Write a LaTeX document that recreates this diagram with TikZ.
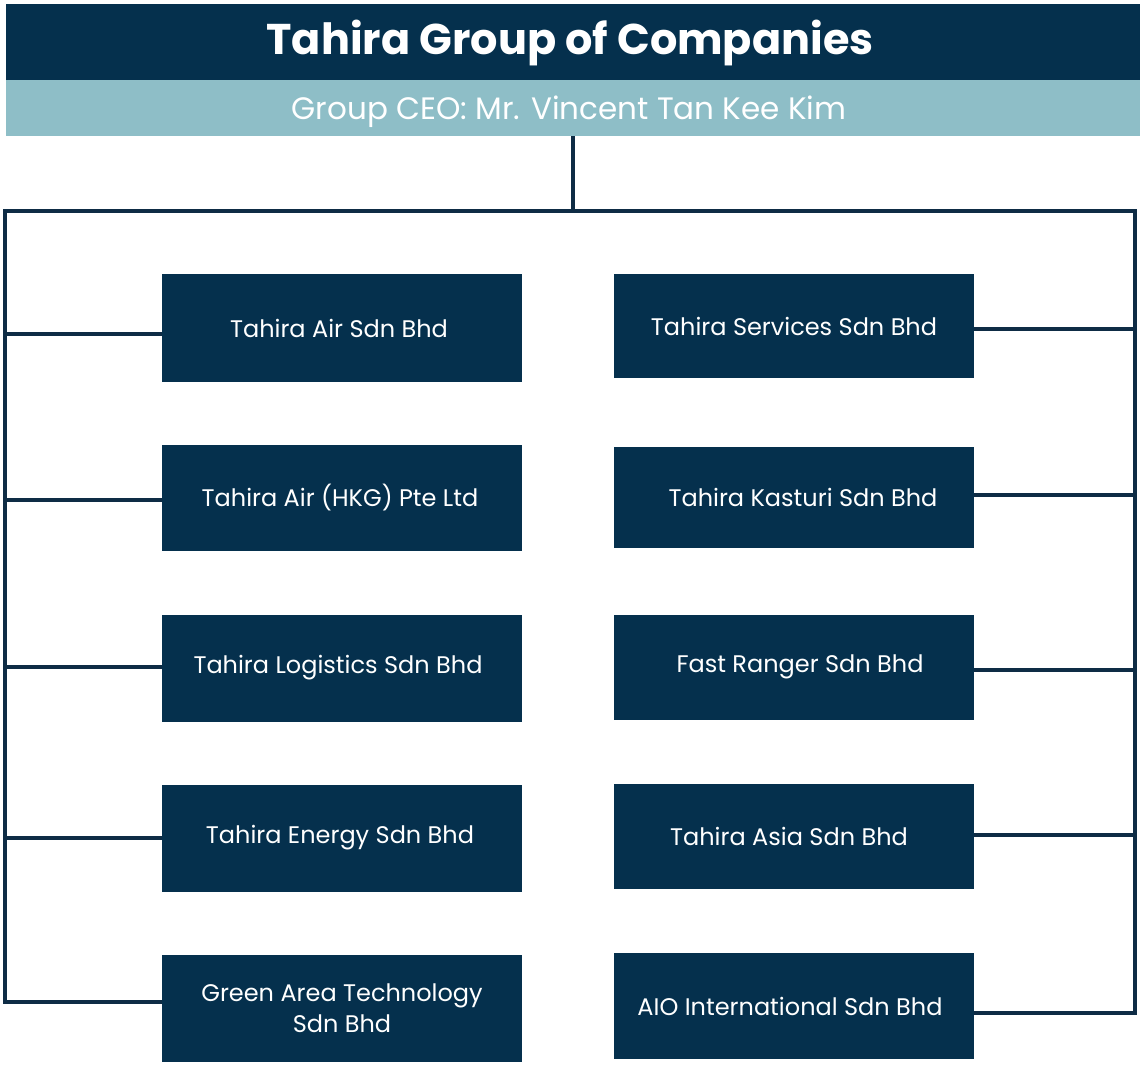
\documentclass[tikz,border=0pt]{standalone}
\usepackage{fontspec}
\setmainfont{Poppins}
\definecolor{navy}{HTML}{05304D}
\definecolor{linec}{HTML}{0E2C45}
\definecolor{teal}{HTML}{8EBEC7}
\begin{document}
\begin{tikzpicture}[x=1pt,y=-1pt,
  company/.style={fill=navy,text=white,minimum width=360pt,minimum height=107pt,inner sep=0pt,align=center,font=\fontsize{24}{31}\selectfont},
  bar/.style={minimum width=1134pt,inner sep=0pt,anchor=north west},
  conn/.style={draw=linec,line width=4.5pt},
]
\useasboundingbox (0,0) rectangle (1143,1067);
\fill[white] (0,0) rectangle (1143,1067);
% header
\node[bar,fill=navy,minimum height=76pt] (titlebar) at (6,4) {};
\node[bar,fill=teal,minimum height=56pt] (ceo) at (6,80) {};
\node[anchor=base,text=white,inner sep=0pt,font=\bfseries\fontsize{43}{46}\selectfont] (title) at (570,55) {Tahira Group of Companies};
\node[anchor=base,text=white,inner sep=0pt,font=\fontsize{31}{34}\selectfont] (ceotext) at (569,120) {Group CEO: Mr. Vincent Tan Kee Kim};
% boxes left
\node[company] (l1) at (342,328) {\hspace*{-6pt}Tahira Air Sdn Bhd};
\node[company,minimum height=106pt] (l2) at (342,498) {\hspace*{-4pt}Tahira Air (HKG) Pte Ltd};
\node[company] (l3) at (342,668) {\hspace*{-8pt}Tahira Logistics Sdn Bhd};
\node[company] (l4) at (342,838) {\hspace*{-4pt}Tahira Energy Sdn Bhd};
\node[company] (l5) at (342,1008) {Green Area Technology\\Sdn Bhd};
% boxes right
\node[company,minimum height=104pt] (r1) at (794,326) {Tahira Services Sdn Bhd};
\node[company,minimum height=101pt] (r2) at (794,497) {\hspace*{18pt}Tahira Kasturi Sdn Bhd};
\node[company,minimum height=105pt] (r3) at (794,667) {\hspace*{12pt}Fast Ranger Sdn Bhd};
\node[company,minimum height=105pt] (r4) at (794,836) {\hspace*{-10pt}Tahira Asia Sdn Bhd};
\node[company,minimum height=106pt] (r5) at (794,1006) {\hspace*{-8pt}AIO International Sdn Bhd};
% trunk
\coordinate (top) at (573,211);
\coordinate (tl) at (5,211);
\coordinate (tr) at (1135,211);
\coordinate (l1c) at ([yshift=-6pt]l1.west);
\coordinate (l2c) at ([yshift=-2pt]l2.west);
\coordinate (l3c) at ([yshift=1pt]l3.west);
\coordinate (l4c) at (l4.west);
\coordinate (l5c) at ([yshift=6pt]l5.west);
\coordinate (r1c) at ([yshift=-3pt]r1.east);
\coordinate (r2c) at ([yshift=2pt]r2.east);
\coordinate (r3c) at ([yshift=-3pt]r3.east);
\coordinate (r4c) at ([yshift=1pt]r4.east);
\coordinate (r5c) at ([yshift=-7pt]r5.east);
\draw[conn] (ceo.south -| top) -- (top);
\draw[conn] (l5c) -- (l5c -| tl) -- (tl) -- (tr) -- (r5c -| tr) -- (r5c);
\foreach \n in {l1c,l2c,l3c,l4c} \draw[conn] (\n -| tl) -- (\n);
\foreach \n in {r1c,r2c,r3c,r4c} \draw[conn] (\n) -- (\n -| tr);
\end{tikzpicture}
\end{document}
